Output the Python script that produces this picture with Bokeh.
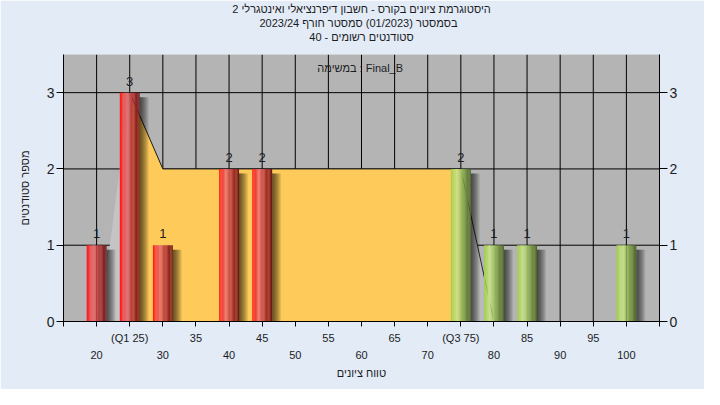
from bokeh.plotting import figure
from bokeh.models import LinearAxis, FixedTicker, Title, Label
from bokeh.embed import file_html
from bokeh.resources import INLINE
from bokeh.core.properties import value

# ---------------- data ----------------
scores = [20, 25, 30, 40, 45, 75, 80, 85, 100]
counts = [1, 3, 1, 2, 2, 2, 1, 1, 1]
pass_mark = 55
q1_score, q3_score = 25, 75

# quartile band (yellow) and its grey tails
band_x = [25, 30, 75]
band_y = [3, 2, 2]
left_tail_x = [20.5, 25]
left_tail_y = [0, 3]
right_tail_x = [75, 80]
right_tail_y = [2, 0]

x_ticks = list(range(15, 106, 5))
x_ticks_row2 = list(range(20, 101, 10))
y_ticks = [0, 1, 2, 3]
x_min, x_max, y_min, y_max = 15, 105, 0, 3.5

title_lines = [
    "היסטוגרמת ציונים בקורס - חשבון דיפרנציאלי ואינטגרלי 2",
    "בסמסטר  (01/2023)  סמסטר חורף 2023/24",
    "סטודנטים רשומים - 40",
]
task_label = "במשימה : Final_B"
x_label = "טווח ציונים"
y_label = "מספר סטודנטים"

# ---------------- styling ----------------
FONT = "Liberation Sans"
TXT = "#1c1c24"
BAR_W = 3.0
N_STRIPS = 16
RED_STOPS = [(0.0, (255, 22, 22)), (0.10, (248, 45, 45)), (0.35, (232, 112, 112)),
             (0.65, (178, 52, 52)), (1.0, (105, 22, 22))]
GREEN_STOPS = [(0.0, (160, 206, 72)), (0.32, (202, 228, 142)), (0.62, (136, 170, 76)),
               (1.0, (74, 98, 38))]


def interp(stops, t):
    for (t0, c0), (t1, c1) in zip(stops[:-1], stops[1:]):
        if t0 <= t <= t1:
            f = (t - t0) / (t1 - t0)
            c = [round(a + (b - a) * f) for a, b in zip(c0, c1)]
            return "#%02x%02x%02x" % tuple(c)
    c = stops[-1][1]
    return "#%02x%02x%02x" % c


p = figure(width=704, height=389, x_range=(x_min, x_max), y_range=(y_min, y_max),
           output_backend="svg", toolbar_location=None,
           x_axis_location=None, y_axis_location=None,
           min_border_left=63, min_border_right=45, min_border_top=54, min_border_bottom=68)
p.background_fill_color = "#b4b4b4"
p.border_fill_color = "#e2ebf6"
p.outline_line_color = None
p.xgrid.visible = False
p.ygrid.visible = False

# grid lines (black), one line per tick
for t in x_ticks:
    p.line([t, t], [y_min, y_max], line_color="#000000", line_width=1)
for t in y_ticks:
    p.line([x_min, x_max], [t, t], line_color="#000000", line_width=1)

# tails and band
p.patch(left_tail_x + [left_tail_x[-1]], left_tail_y + [0], fill_color="#c4c4c4", line_color=None)
p.patch(right_tail_x + [right_tail_x[0]], right_tail_y + [0], fill_color="#bababa", line_color=None)
p.patch([band_x[0]] + band_x + [band_x[-1]], [0] + band_y + [0], fill_color="#fecb5a", line_color=None)
p.line(band_x, band_y, line_color="#1a1a1a", line_width=1)
p.line(right_tail_x, right_tail_y, line_color="#2a2a2a", line_width=1)

# bar shadows
px = (x_max - x_min) / 596.0
sl, sr, st = [], [], []
for s, c in zip(scores, counts):
    for i in range(1, 10):
        sl.append(s + BAR_W / 2)
        sr.append(s + BAR_W / 2 + i * px)
        st.append(c - 0.06)
p.quad(left=sl, right=sr, bottom=0, top=st, fill_color="black", fill_alpha=0.09, line_color=None)

# cylinder bars
bl, br, bt, bc = [], [], [], []
for s, c in zip(scores, counts):
    stops = RED_STOPS if s < pass_mark else GREEN_STOPS
    for k in range(N_STRIPS):
        l = s - BAR_W / 2 + k * BAR_W / N_STRIPS
        bl.append(l)
        br.append(l + BAR_W / N_STRIPS + 0.01)
        bt.append(c)
        bc.append(interp(stops, (k + 0.5) / N_STRIPS))
p.quad(left=bl, right=br, bottom=0, top=bt, fill_color=bc, line_color=None)

# value labels
p.text(x=scores, y=counts, text=[str(c) for c in counts], text_align="center",
       text_baseline="bottom", y_offset=-7, text_font=value(FONT),
       text_font_size="13px", text_color=TXT)

p.add_layout(Label(x=59.8, y=3.32, text=task_label, text_align="center", text_baseline="middle",
                   text_font=FONT, text_font_size="11px", text_color=TXT))

# axes
def style_axis(ax, tick_size="11px"):
    ax.axis_line_color = "black"
    ax.major_tick_line_color = "black"
    ax.minor_tick_line_color = None
    ax.major_tick_in = 0
    ax.major_label_text_font = FONT
    ax.major_label_text_font_size = tick_size
    ax.major_label_text_color = TXT
    ax.axis_label_text_font = FONT
    ax.axis_label_text_font_size = "11px"
    ax.axis_label_text_font_style = "normal"
    ax.axis_label_text_color = TXT

yl = LinearAxis(ticker=FixedTicker(ticks=y_ticks), axis_label=y_label)
style_axis(yl, "14px")
yl.major_tick_out = 7
yl.major_label_standoff = 2
yl.axis_label_standoff = 13
p.add_layout(yl, "left")

yr = LinearAxis(ticker=FixedTicker(ticks=y_ticks))
style_axis(yr, "14px")
yr.major_tick_out = 8
yr.major_label_standoff = 2
p.add_layout(yr, "right")

overrides = {}
for t in x_ticks:
    if t == q1_score:
        overrides[t] = "(Q1 %d)" % t
    elif t == q3_score:
        overrides[t] = "(Q3 %d)" % t
    elif t % 10 == 0 or t in (x_min, x_max):
        overrides[t] = ""
    else:
        overrides[t] = str(t)
x1 = LinearAxis(ticker=FixedTicker(ticks=x_ticks), major_label_overrides=overrides)
style_axis(x1)
x1.major_tick_out = 5
x1.major_label_standoff = 5
p.add_layout(x1, "below")

x2 = LinearAxis(ticker=FixedTicker(ticks=x_ticks_row2), axis_label=x_label)
style_axis(x2)
x2.axis_line_color = None
x2.major_tick_line_color = None
x2.major_tick_out = 0
x2.major_label_standoff = 4
x2.axis_label_standoff = 5
p.add_layout(x2, "below")

# spacer + three centred title lines (closest to the plot added first)
p.add_layout(Title(text=" ", text_font_size="9px", standoff=0), "above")
for line in reversed(title_lines):
    p.add_layout(Title(text=line, align="center", text_font=FONT,
                       text_font_size="11px", text_font_style="normal", text_color=TXT,
                       standoff=0, text_line_height=1.0), "above")

open("out.html", "w").write(file_html(p, INLINE))
